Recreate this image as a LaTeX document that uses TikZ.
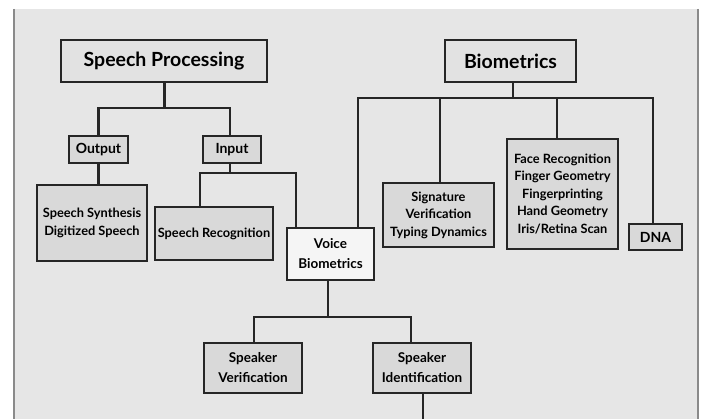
\documentclass[tikz,border=0pt]{standalone}
\usepackage{fontspec}
\setmainfont{Lato}
\usepackage{tikz}
\usetikzlibrary{positioning}
\definecolor{bggray}{HTML}{E6E6E6}
\definecolor{boxgray}{HTML}{D9D9D9}
\definecolor{framegray}{HTML}{8A8A8A}
\definecolor{ink}{HTML}{262626}
\tikzset{
  box/.style={draw=ink, line width=2.8pt, fill=boxgray, align=center,
    inner sep=0pt, font=\fontsize{12.8}{17.5}\selectfont\bfseries},
  widebox/.style={box, font=\fontsize{13.5}{20}\selectfont\bfseries},
  tagbox/.style={box, font=\fontsize{14}{17}\selectfont\bfseries},
  titlebox/.style={box, fill=bggray!70!boxgray, font=\fontsize{19.5}{22}\selectfont\bfseries},
  link/.style={draw=ink, line width=2.8pt},
}
\begin{document}
\begin{tikzpicture}[x=1pt, y=-1pt]

\useasboundingbox (0,0) rectangle (705,419);
\fill[bggray] (15,9) rectangle (698,419); %% background
\draw[framegray, line width=2pt] (14,9) -- (14,419);
\draw[framegray, line width=2pt] (698,9) -- (698,419);

%% top level
\node[titlebox, minimum width=206pt, minimum height=42pt] (sp) at (164,61) {Speech Processing};
\node[titlebox, minimum width=131pt, minimum height=42pt] (bio) at (510.5,61) {Biometrics};

%% speech side
\node[tagbox, minimum width=59pt, minimum height=27pt] (out) at (98.5,149.5) {Output};
\node[tagbox, minimum width=58pt, minimum height=27pt] (inp) at (232,149.5) {Input};
\node[box, minimum width=110pt, minimum height=76pt] (synth) at (92,223)
  {Speech Synthesis\\Digitized Speech};
\node[box, minimum width=118pt, minimum height=53pt] (recog) at (214,233.5)
  {Speech Recognition};

%% biometrics side
\node[box, minimum width=111pt, minimum height=64pt] (sig) at (438.5,215)
  {Signature\\Verification\\Typing Dynamics};
\node[box, minimum width=111pt, minimum height=110pt] (face) at (562.5,194)
  {Face Recognition\\Finger Geometry\\Fingerprinting\\Hand Geometry\\Iris/Retina Scan};
\node[tagbox, minimum width=53pt, minimum height=26pt] (dna) at (655.5,237) {DNA};

\node[widebox, fill=white!60!bggray, minimum width=87pt, minimum height=52pt] (voice) at (330.5,254)
  {Voice\\Biometrics};
\node[widebox, minimum width=98pt, minimum height=50pt] (sver) at (253,368)
  {Speaker\\Verification};
\node[widebox, minimum width=98pt, minimum height=50pt] (sid) at (422,368)
  {Speaker\\Identification};

%% connectors
\coordinate (spbar) at (164.5,108);
\coordinate (inbar) at (230,173);
\coordinate (biobar) at (513,98);
\coordinate (vbar) at (328,317);
\coordinate (bottom) at (423,419);

\draw[link] ([xshift=0.5pt]sp.south) -- (spbar);
\draw[link] (out.north) |- (spbar) -| ([xshift=-2pt]inp.north);
\draw[link] (out.south) -- (out.south |- synth.north);
\draw[link] ([xshift=-2pt]inp.south) -- (inbar);
\draw[link] ([xshift=-14pt]recog.north) |- (inbar) -| ([xshift=-34.5pt]voice.north);

\draw[link] ([xshift=2.5pt]bio.south) -- (biobar);
\draw[link] ([xshift=27.5pt]voice.north) |- (biobar) -| ([xshift=-2.5pt]dna.north);
\draw[link] ([xshift=1.5pt]sig.north) -- ([xshift=1.5pt]sig.north |- biobar);
\draw[link] ([xshift=-5.5pt]face.north) -- ([xshift=-5.5pt]face.north |- biobar);

\draw[link] ([xshift=-2.5pt]voice.south) -- (vbar);
\draw[link] ([xshift=1pt]sver.north) |- (vbar) -| ([xshift=-11pt]sid.north);
\draw[link] ([xshift=1pt]sid.south) -- (bottom);

\end{tikzpicture}
\end{document}
